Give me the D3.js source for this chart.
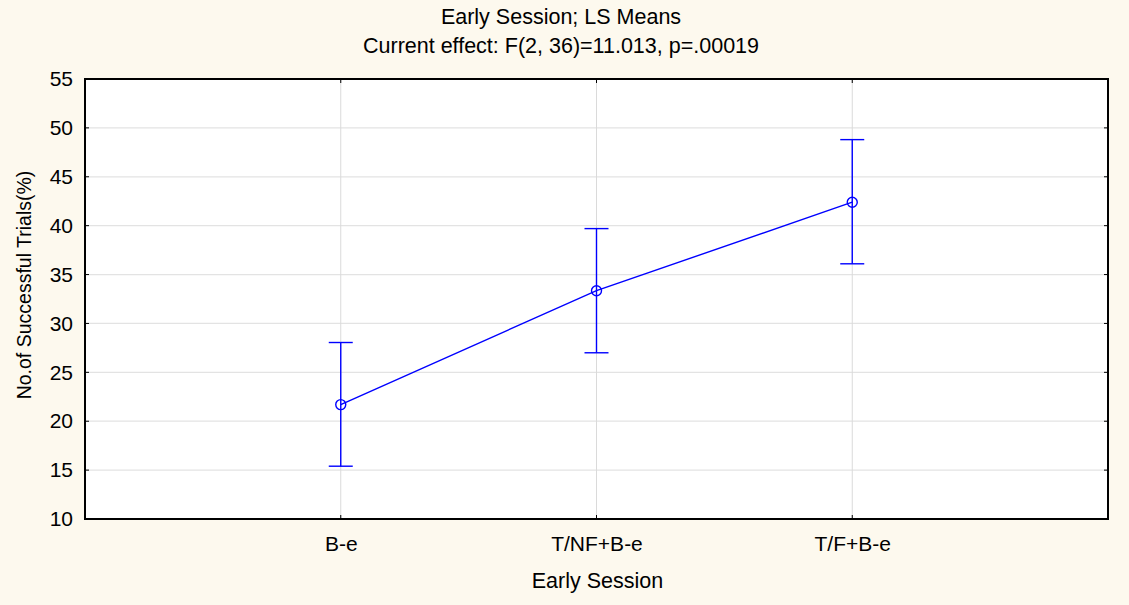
<!DOCTYPE html>
<html><head><meta charset="utf-8">
<script src="https://cdn.jsdelivr.net/npm/d3@7"></script>
<style>body{margin:0;background:#FDF9EE;}svg{display:block;font-family:"Liberation Sans",Arial,sans-serif;}</style>
</head><body>
<svg id="c" width="1129" height="605"></svg>
<script>
const categories = ["B-e", "T/NF+B-e", "T/F+B-e"];
const means = [21.7, 33.35, 42.4];
const upper = [28.05, 39.7, 48.8];
const lower = [15.4, 27.0, 36.1];
const yTicks = [10, 15, 20, 25, 30, 35, 40, 45, 50, 55];
const titleLines = ["Early Session; LS Means", "Current effect: F(2, 36)=11.013, p=.00019"];
const xTitle = "Early Session";
const yTitle = "No.of Successful Trials(%)";

const FS = 21;
const svg = d3.select("#c");
const W = 1129, H = 605;
const m = {l: 85, r: 21, t: 79, b: 86};
const pw = W - m.l - m.r, ph = H - m.t - m.b;
svg.append("rect").attr("width", W).attr("height", H).attr("fill", "#FDF9EE");
const g = svg.append("g").attr("transform", `translate(${m.l},${m.t})`);

const x = d3.scalePoint().domain(["_a", ...categories, "_b"]).range([0, pw]);
const y = d3.scaleLinear().domain([10, 55]).range([ph, 0]);

g.append("rect").attr("width", pw).attr("height", ph).attr("fill", "#fff");

// grid
g.selectAll(".hg").data(yTicks.slice(1, -1)).join("line")
  .attr("x1", 0).attr("x2", pw).attr("y1", d => y(d)).attr("y2", d => y(d))
  .attr("stroke", "#E3E3E3").attr("stroke-width", 1.3);
g.selectAll(".vg").data(categories).join("line")
  .attr("x1", d => x(d)).attr("x2", d => x(d)).attr("y1", 0).attr("y2", ph)
  .attr("stroke", "#DADADA").attr("stroke-width", 1);

// axes
const yAxis = g.append("g").call(d3.axisLeft(y).tickValues(yTicks).tickSize(0).tickPadding(12));
yAxis.select(".domain").remove();
yAxis.selectAll("text").attr("font-size", FS).attr("fill", "#000").attr("font-family", "Liberation Sans, Arial, sans-serif");
const xAxis = g.append("g").attr("transform", `translate(0,${ph})`)
  .call(d3.axisBottom(x).tickValues(categories).tickSize(0).tickPadding(17));
xAxis.select(".domain").remove();
xAxis.selectAll("text").attr("font-size", FS).attr("fill", "#000").attr("font-family", "Liberation Sans, Arial, sans-serif");

// inward ticks
g.selectAll(".rt").data(yTicks).join("line")
  .attr("x1", pw - 4).attr("x2", pw).attr("y1", d => y(d)).attr("y2", d => y(d)).attr("stroke", "#000");
g.selectAll(".lt").data(yTicks).join("line")
  .attr("x1", 0).attr("x2", 4).attr("y1", d => y(d)).attr("y2", d => y(d)).attr("stroke", "#000");
g.selectAll(".tt").data(categories).join("line")
  .attr("x1", d => x(d)).attr("x2", d => x(d)).attr("y1", 0).attr("y2", 4).attr("stroke", "#000");
g.selectAll(".bt").data(categories).join("line")
  .attr("x1", d => x(d)).attr("x2", d => x(d)).attr("y1", ph - 4).attr("y2", ph).attr("stroke", "#000");

g.append("rect").attr("width", pw).attr("height", ph).attr("fill", "none")
  .attr("stroke", "#000").attr("stroke-width", 2);

// data
const data = categories.map((c, i) => ({c, m: means[i], u: upper[i], l: lower[i]}));
const blue = "#0000FF";
g.append("path").datum(data)
  .attr("d", d3.line().x(d => x(d.c)).y(d => y(d.m)))
  .attr("fill", "none").attr("stroke", blue).attr("stroke-width", 1.4);
const eb = g.selectAll(".eb").data(data).join("g");
eb.append("line").attr("x1", d => x(d.c)).attr("x2", d => x(d.c))
  .attr("y1", d => y(d.u)).attr("y2", d => y(d.l)).attr("stroke", blue).attr("stroke-width", 1.4);
eb.append("line").attr("x1", d => x(d.c) - 12).attr("x2", d => x(d.c) + 12)
  .attr("y1", d => y(d.u)).attr("y2", d => y(d.u)).attr("stroke", blue).attr("stroke-width", 1.4);
eb.append("line").attr("x1", d => x(d.c) - 12).attr("x2", d => x(d.c) + 12)
  .attr("y1", d => y(d.l)).attr("y2", d => y(d.l)).attr("stroke", blue).attr("stroke-width", 1.4);
eb.append("circle").attr("cx", d => x(d.c)).attr("cy", d => y(d.m)).attr("r", 5)
  .attr("fill", "none").attr("stroke", blue).attr("stroke-width", 1.4);

// titles
svg.selectAll(".title").data(titleLines).join("text")
  .attr("x", 561).attr("y", (d, i) => 24 + i * 29)
  .attr("text-anchor", "middle").attr("font-size", 21.5).attr("fill", "#000").text(d => d);
svg.append("text").attr("x", m.l + pw / 2 + 1).attr("y", 588)
  .attr("text-anchor", "middle").attr("font-size", 21.5).attr("fill", "#000").text(xTitle);
svg.append("text").attr("transform", `translate(31,${(172 + 398) / 2}) rotate(-90)`)
  .attr("text-anchor", "middle").attr("font-size", 19.5).attr("fill", "#000").text(yTitle);
</script>
</body></html>
